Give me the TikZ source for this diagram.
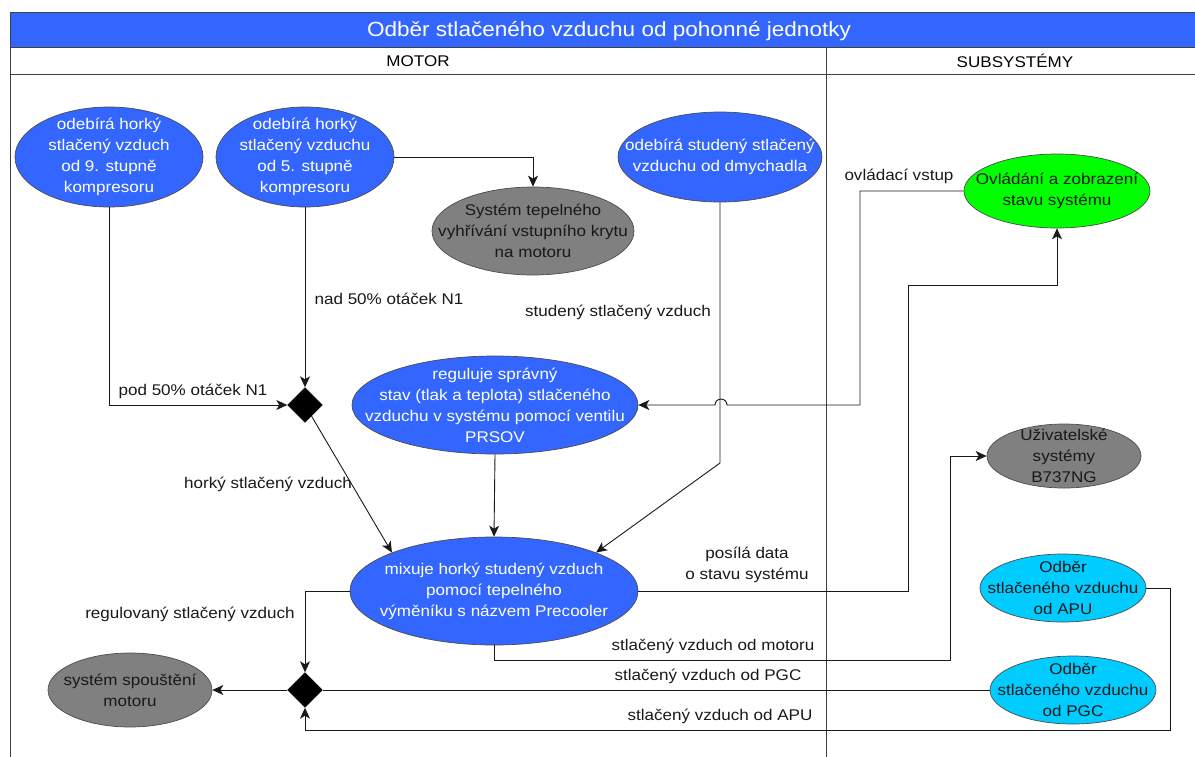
\documentclass[tikz,border=0pt]{standalone}
\usepackage{fontspec}
\setmainfont[FakeStretch=1.1]{Liberation Sans}
\usepackage{tikz}
\usetikzlibrary{shapes.geometric,arrows.meta}
\definecolor{procblue}{HTML}{3366FF}
\definecolor{sysgray}{HTML}{808080}
\definecolor{ctrlgreen}{HTML}{00FF00}
\definecolor{srccyan}{HTML}{00CCFF}
\begin{document}
\begin{tikzpicture}[x=1pt,y=-1pt,
    font=\fontsize{15.5}{21}\selectfont,
    lane/.style={draw=black!75, line width=0.9pt},
    flow/.style={draw=black!90, line width=0.9pt, -{Stealth[length=11pt,width=10pt,inset=3pt]}},
    line/.style={draw=black!90, line width=0.9pt},
    bubble/.style={ellipse, draw=black!70, line width=0.7pt, inner sep=0pt},
    proc/.style={bubble, fill=procblue},
    sys/.style={bubble, fill=sysgray},
    ctrl/.style={bubble, fill=ctrlgreen},
    src/.style={bubble, fill=srccyan},
    wtxt/.style={align=center, text=white, inner sep=0pt},
    dtxt/.style={align=center, text=black!90, inner sep=0pt},
    merge/.style={diamond, fill=black, draw=black, minimum size=35pt, inner sep=0pt},
    lbl/.style={align=center, text=black!90, inner sep=1pt}]
  \useasboundingbox (0,0) rectangle (1195,756);

  \draw[lane, fill=procblue] (10,12) rectangle (1204,47);
  \node[text=white, font=\fontsize{20.5}{24}\selectfont] (title) at (609,31) {Odběr stlačeného vzduchu od pohonné jednotky};
  \draw[lane] (10,47) rectangle (826,74);
  \draw[lane] (826,47) rectangle (1204,74);
  \draw[lane] (10,74) -- (10,760);
  \draw[lane] (826,74) -- (826,760);
  \node (motor) at (418,61) {MOTOR};
  \node (subsys) at (1015,61) {SUBSYSTÉMY};

  \node[proc, minimum width=188pt, minimum height=100pt,
    label={[wtxt]center:{odebírá horký\\stlačený vzduch\\od 9. stupně\\kompresoru}}] (e9) at (109,157) {};
  \node[proc, minimum width=178pt, minimum height=100pt,
    label={[wtxt]center:{odebírá horký\\stlačený vzduchu\\od 5. stupně\\kompresoru}}] (e5) at (305,157) {};
  \node[sys, minimum width=202pt, minimum height=88pt,
    label={[dtxt]center:{Systém tepelného\\vyhřívání vstupního krytu\\na motoru}}] (heat) at (533,231) {};
  \node[proc, minimum width=204pt, minimum height=90pt,
    label={[wtxt]center:{odebírá studený stlačený\\vzduchu od dmychadla}}] (cold) at (720,157) {};
  \node[ctrl, minimum width=186pt, minimum height=74pt,
    label={[dtxt]center:{Ovládání a zobrazení\\stavu systému}}] (ctrl) at (1057,191) {};
  \node[proc, minimum width=286pt, minimum height=98pt,
    label={[wtxt]center:{reguluje správný\\stav (tlak a teplota) stlačeného\\vzduchu v systému pomocí ventilu\\PRSOV}}] (prsov) at (495,405) {};
  \node[proc, minimum width=288pt, minimum height=108pt,
    label={[wtxt]center:{mixuje horký studený vzduch\\pomocí tepelného\\výměníku s názvem Precooler}}] (mix) at (494,591) {};
  \node[sys, minimum width=154pt, minimum height=64pt,
    label={[dtxt]center:{Uživatelské\\systémy\\B737NG}}] (users) at (1064,456) {};
  \node[src, minimum width=166pt, minimum height=68pt,
    label={[dtxt]center:{Odběr\\stlačeného vzduchu\\od APU}}] (apu) at (1063,588) {};
  \node[src, minimum width=166pt, minimum height=68pt,
    label={[dtxt]center:{Odběr\\stlačeného vzduchu\\od PGC}}] (pgc) at (1073,690) {};
  \node[sys, minimum width=164pt, minimum height=74pt,
    label={[dtxt]center:{systém spouštění\\motoru}}] (start) at (130,690) {};

  \node[merge] (d1) at (305,405) {};
  \node[merge] (d2) at (305,690) {};

  \draw[flow] (e9.south) |- (d1.west);
  \draw[flow] (e5.south) -- (d1.north);
  \draw[flow] (e5.east) -| (heat.north);
  \draw[flow] (d1) -- (mix.north west);
  \draw[flow] (prsov.south) -- (mix.north);
  \coordinate (coldbend) at (720,463);
  \draw[flow] (cold.south) -- (coldbend) -- (mix.north east);
  \draw[flow] (ctrl.west) -| (860,405) -- (727,405) arc[start angle=0,end angle=180,radius=6pt] -- (prsov.east);
  \draw[flow] (mix.east) -| (908,285) -| (ctrl.south);
  \draw[flow] (mix.south) |- (950,660) |- (users.west);
  \draw[flow] (mix.west) -| (d2.north);
  \draw[line] (pgc.west) -- (d2.east);
  \draw[flow] (apu.east) -| (1170,730) -| (d2.south);
  \draw[flow] (d2.west) -- (start.east);

  \node[lbl] (l9) at (193,391) {pod 50\% otáček N1};
  \node[lbl] (l5) at (389,299) {nad 50\% otáček N1};
  \node[lbl] (lcold) at (618,312) {studený stlačený vzduch};
  \node[lbl] (lctrl) at (899,176) {ovládací vstup};
  \node[lbl] (lhot) at (268,484) {horký stlačený vzduch};
  \node[lbl] (ldata) at (747,565) {posílá data\\o stavu systému};
  \node[lbl] (lmot) at (713,646) {stlačený vzduch od motoru};
  \node[lbl] (lpgc) at (708,676) {stlačený vzduch od PGC};
  \node[lbl] (lapu) at (720,716) {stlačený vzduch od APU};
  \node[lbl] (lreg) at (190,614) {regulovaný stlačený vzduch};
\end{tikzpicture}
\end{document}
